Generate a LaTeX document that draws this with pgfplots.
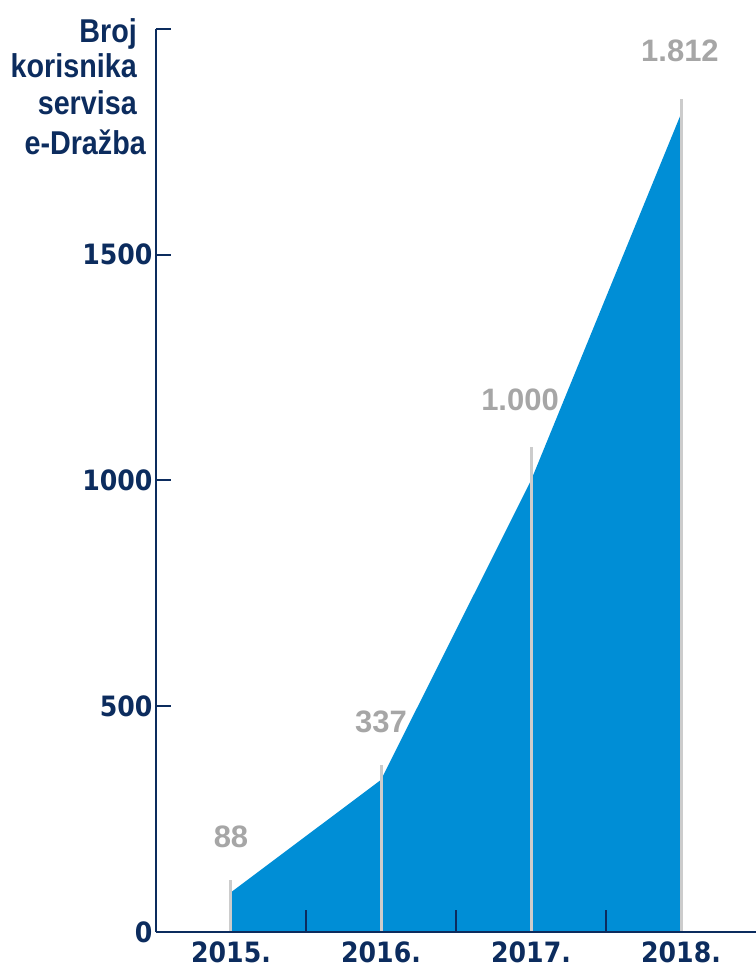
\documentclass[border=0pt]{standalone}
\usepackage{fontspec}
\setmainfont{Liberation Sans}
\newfontfamily\labfont[FakeStretch=0.87]{Liberation Sans}
\newfontfamily\tickfont[FakeStretch=0.9]{DejaVu Sans}
\usepackage{pgfplots}
\pgfplotsset{compat=1.18}
\definecolor{navy}{RGB}{12,44,94}
\definecolor{areablue}{RGB}{0,142,214}
\definecolor{dropgray}{RGB}{204,204,204}
\definecolor{valgray}{RGB}{166,166,166}

\begin{document}
\begin{tikzpicture}
\path[use as bounding box] (-156bp,-38bp) rectangle (600bp,932bp);
\begin{axis}[
    at={(0,0)}, anchor=south west,
    scale only axis,
    width=600bp, height=903bp,
    xmin=-0.5, xmax=3.5,
    ymin=0, ymax=2000,
    axis lines=left,
    axis line style={-, navy, line width=2.2bp},
    axis on top,
    clip=false,
    xtick={0,1,2,3},
    xticklabels={2015.,2016.,2017.,2018.},
    major x tick style={draw=none},
    minor xtick={0.5,1.5,2.5},
    minor tick length=22bp,
    ytick={0,500,1000,1500,2000},
    yticklabels={0,500,1000,1500,{}},
    major tick length=15bp,
    tick align=inside,
    tick style={navy, line width=2bp},
    ticklabel style={font=\tickfont\bfseries\fontsize{28bp}{28bp}\selectfont, text=navy},
    xticklabel style={yshift=-6bp},
    /pgf/number format/assume math mode=true,
]
\addplot[fill=areablue, draw=none] coordinates {
    (0,88) (1,337) (2,1000) (3,1812)
} \closedcycle;
\addplot[ycomb, dropgray, line width=3bp, mark=none] coordinates {
    (0,115) (1,370) (2,1075) (3,1845)
};
\begin{scope}[every node/.style={anchor=base, text=valgray, font=\bfseries\fontsize{31bp}{31bp}\selectfont}]
\node at (axis cs:0,188) {88};
\node at (axis cs:1,441) {337};
\node at (axis cs:1.927,1156) {1.000};
\node at (axis cs:2.993,1927) {1.812};
\end{scope}
\end{axis}
\begin{scope}[every node/.style={anchor=base east, inner sep=0pt, text=navy, font=\labfont\bfseries\fontsize{33bp}{33bp}\selectfont}]
\node at (-19bp,889bp) {Broj};
\node at (-19bp,854bp) {korisnika};
\node at (-19bp,817bp) {servisa};
\node at (-10bp,777bp) {e-Dražba};
\end{scope}
\end{tikzpicture}
\end{document}
